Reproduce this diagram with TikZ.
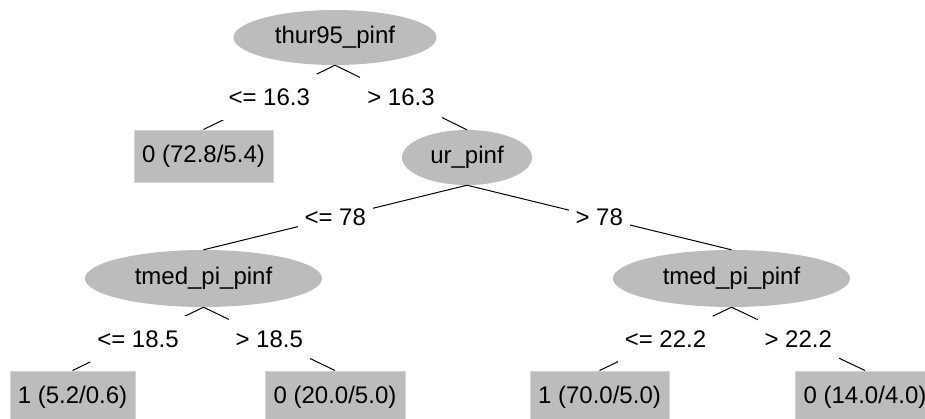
\documentclass[tikz,border=0pt]{standalone}
\usepackage{fontspec}
\setmainfont{Liberation Sans}
\usetikzlibrary{shapes.geometric}
\definecolor{nodegray}{RGB}{188,188,188}
\definecolor{edgegray}{RGB}{212,212,212}
\begin{document}
\begin{tikzpicture}[x=1pt,y=-1pt,
  every node/.style={font=\fontsize{24}{28}\selectfont, text=black},
  split/.style={ellipse, fill=nodegray, inner sep=0pt},
  leaf/.style={rectangle, fill=nodegray, draw=edgegray, line width=1pt, minimum height=52pt, inner sep=0pt},
  lbl/.style={fill=white, inner xsep=7pt, inner ysep=0pt, minimum height=46pt},
  conn/.style={draw=black, line width=1pt}]
\useasboundingbox (0,0) rectangle (925,418);
\clip (0,0) rectangle (925,418);
\fill[white] (0,0) rectangle (925,418);

\node[split, minimum width=203pt, minimum height=55pt] (root) at (335,37.5) {thur95\_pinf};
\node[leaf, minimum width=139pt] (l0) at (203.5,156) {0 (72.8/5.4)};
\node[split, minimum width=130pt, minimum height=55pt] (ur) at (467,157.5) {ur\_pinf};
\node[split, minimum width=237pt, minimum height=57pt] (tl) at (203.5,278.5) {tmed\_pi\_pinf};
\node[split, minimum width=237pt, minimum height=57pt] (tr) at (731.5,278.5) {tmed\_pi\_pinf};
\node[leaf, minimum width=125pt] (a) at (72.5,397) {1 (5.2/0.6)};
\node[leaf, minimum width=140pt] (b) at (335,397) {0 (20.0/5.0)};
\node[leaf, minimum width=139pt] (c) at (599.5,397) {1 (70.0/5.0)};
\node[leaf, minimum width=140pt] (d) at (865,397) {0 (14.0/4.0)};

\draw[conn] (root.south) -- node[lbl] {<= 16.3} (l0.north);
\draw[conn] (root.south) -- node[lbl] {> 16.3} (ur.north);
\draw[conn] (ur.south) -- node[lbl] {<= 78} (tl.north);
\draw[conn] (ur.south) -- node[lbl] {> 78} (tr.north);
\draw[conn] (tl.south) -- node[lbl] {<= 18.5} (a.north);
\draw[conn] (tl.south) -- node[lbl] {> 18.5} (b.north);
\draw[conn] (tr.south) -- node[lbl] {<= 22.2} (c.north);
\draw[conn] (tr.south) -- node[lbl] {> 22.2} (d.north);
\end{tikzpicture}
\end{document}
